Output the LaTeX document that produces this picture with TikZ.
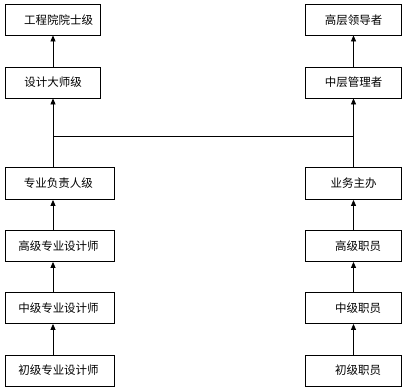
\documentclass[tikz,border=0pt]{standalone}
\usepackage{fontspec}
\setmainfont{Noto Sans CJK SC}
\usetikzlibrary{arrows.meta}
\begin{document}
\begin{tikzpicture}[x=1pt,y=-1pt,
  boxl/.style={draw,line width=0.8pt,rectangle,inner sep=0pt,font=\fontsize{11.5}{12}\selectfont},
  link/.style={line width=0.8pt},
  arr/.style={line width=0.8pt,-{Triangle[width=5pt,length=6pt]}}]
\useasboundingbox (0,0) rectangle (407,389);
% left column
\node[boxl,minimum width=95pt,minimum height=30.5pt] (l1) at (53,19.75) {\hspace{11pt}工程院院士级};
\node[boxl,minimum width=95pt,minimum height=31pt] (l2) at (53,82.5) {设计大师级};
\node[boxl,minimum width=109pt,minimum height=32pt] (l3) at (60,183.5) {\hspace{-3pt}专业负责人级};
\node[boxl,minimum width=109pt,minimum height=31pt] (l4) at (60,246) {\hspace{-3pt}高级专业设计师};
\node[boxl,minimum width=109pt,minimum height=31pt] (l5) at (60,308) {\hspace{-3pt}中级专业设计师};
\node[boxl,minimum width=109pt,minimum height=31pt] (l6) at (60,370.5) {\hspace{-3pt}初级专业设计师};
% right column
\node[boxl,minimum width=96pt,minimum height=30.5pt] (r1) at (353.5,19.75) {高层领导者};
\node[boxl,minimum width=96pt,minimum height=31pt] (r2) at (353.5,82.5) {中层管理者};
\node[boxl,minimum width=96pt,minimum height=32pt] (r3) at (353.5,183.5) {业务主办};
\node[boxl,minimum width=96pt,minimum height=31pt] (r4) at (353.5,246) {\hspace{9pt}高级职员};
\node[boxl,minimum width=96pt,minimum height=31pt] (r5) at (353.5,308) {\hspace{9pt}中级职员};
\node[boxl,minimum width=96pt,minimum height=31pt] (r6) at (353.5,370.5) {\hspace{9pt}初级职员};
% junction points of the cross link
\coordinate (jl) at (53,136.3);
\coordinate (jr) at (353.5,136.3);
% connectors left
\draw[arr] (l2.north) -- (l1.south);
\draw[arr] (l3.north -| l2.south) -- (l2.south);
\draw[arr] (l4.north -| l2.south) -- (l3.south -| l2.south);
\draw[arr] (l5.north -| l2.south) -- (l4.south -| l2.south);
\draw[arr] (l6.north -| l2.south) -- (l5.south -| l2.south);
% connectors right
\draw[arr] (r2.north) -- (r1.south);
\draw[arr] (r3.north) -- (r2.south);
\draw[arr] (r4.north) -- (r3.south);
\draw[arr] (r5.north) -- (r4.south);
\draw[arr] (r6.north) -- (r5.south);
% cross link
\draw[link] (jl) -- (jr);
\end{tikzpicture}
\end{document}
